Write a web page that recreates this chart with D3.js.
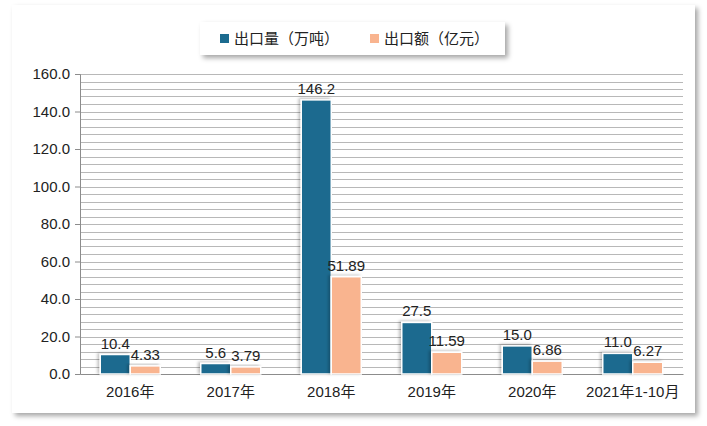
<!DOCTYPE html>
<html><head><meta charset="utf-8">
<script src="https://cdn.jsdelivr.net/npm/d3@7"></script>
<style>body{margin:0;background:#fff;} text{font-family:"Liberation Sans","Noto Sans CJK SC",sans-serif;}</style>
</head><body>
<svg width="707" height="426"></svg>
<script>
var categories = ["2016年","2017年","2018年","2019年","2020年","2021年1-10月"];
var volume = [10.4, 5.6, 146.2, 27.5, 15.0, 11.0];
var amount = [4.33, 3.79, 51.89, 11.59, 6.86, 6.27];
var volumeLabels = ["10.4","5.6","146.2","27.5","15.0","11.0"];
var amountLabels = ["4.33","3.79","51.89","11.59","6.86","6.27"];
var seriesNames = ["出口量（万吨）","出口额（亿元）"];
var colors = ["#1c6b8f","#f9b48f"];

var svg = d3.select("svg");
var defs = svg.append("defs");
var f = defs.append("filter").attr("id","sh").attr("x","-20%").attr("y","-20%").attr("width","150%").attr("height","150%");
f.append("feDropShadow").attr("dx",3).attr("dy",3).attr("stdDeviation",2.5).attr("flood-color","#000").attr("flood-opacity",0.35);
var f2 = defs.append("filter").attr("id","bs").attr("x","-30%").attr("y","-30%").attr("width","160%").attr("height","160%");
f2.append("feDropShadow").attr("dx",-2).attr("dy",-1).attr("stdDeviation",1.5).attr("flood-color","#000").attr("flood-opacity",0.25);

// outer frame
svg.append("rect").attr("x",12).attr("y",5).attr("width",683).attr("height",408)
	.attr("fill","#fff").attr("filter","url(#sh)");

var x0 = 80, x1 = 683, yTop = 74, yBot = 374;
var x = d3.scaleBand().domain(categories).range([x0, x1]);
var y = d3.scaleLinear().domain([0,160]).range([yBot, yTop]);

var g = svg.append("g");
// gridlines every 4
g.selectAll(".grid").data(d3.range(4,161,4)).enter().append("line")
	.attr("x1",x0).attr("x2",x1)
	.attr("y1",function(d){return Math.round(y(d))+0.5;}).attr("y2",function(d){return Math.round(y(d))+0.5;})
	.attr("stroke","#b8b8b8").attr("stroke-width",1);

var yAxis = g.append("g").attr("transform","translate("+x0+",0)")
	.call(d3.axisLeft(y).tickValues(d3.range(0,161,20)).tickFormat(d3.format(".1f")).tickSize(5));
yAxis.select(".domain").attr("stroke","#8c8c8c");
yAxis.selectAll(".tick line").attr("stroke","#8c8c8c");
yAxis.selectAll("text").attr("font-size",15).attr("fill","#222").attr("dx",-2);

var xAxis = g.append("g").attr("transform","translate(0,"+yBot+")")
	.call(d3.axisBottom(x).tickSize(0));
xAxis.select(".domain").attr("stroke","#8c8c8c");
xAxis.selectAll("text").attr("font-size",15).attr("fill","#222").attr("dy",20);

var bw = 30;
var data = categories.map(function(c,i){return {c:c, v:[volume[i],amount[i]], l:[volumeLabels[i],amountLabels[i]]};});
var grp = g.selectAll(".cat").data(data).enter().append("g");
[0,1].forEach(function(k){
	grp.append("rect")
		.attr("x",function(d){return x(d.c)+x.bandwidth()/2 - bw + k*bw;})
		.attr("y",function(d){return y(d.v[k]);})
		.attr("width",bw).attr("height",function(d){return yBot - y(d.v[k]);})
		.attr("fill",colors[k]).attr("stroke","#fff").attr("stroke-width",1.5)
		.attr("filter","url(#bs)");
	grp.append("text")
		.attr("x",function(d){return x(d.c)+x.bandwidth()/2 - bw/2 + k*bw;})
		.attr("y",function(d){return y(d.v[k]) - 6;})
		.attr("text-anchor","middle").attr("font-size",15).attr("fill","#222")
		.text(function(d){return d.l[k];});
});

// legend
var lg = svg.append("g");
lg.append("rect").attr("x",200).attr("y",22).attr("width",305).attr("height",33).attr("fill","#fff").attr("filter","url(#sh)");
var lx = [220, 370];
seriesNames.forEach(function(n,k){
	lg.append("rect").attr("x",lx[k]).attr("y",34).attr("width",9).attr("height",9).attr("fill",colors[k]);
	lg.append("text").attr("x",lx[k]+14).attr("y",44).attr("font-size",15).attr("fill","#222").text(n);
});
</script>
</body></html>
